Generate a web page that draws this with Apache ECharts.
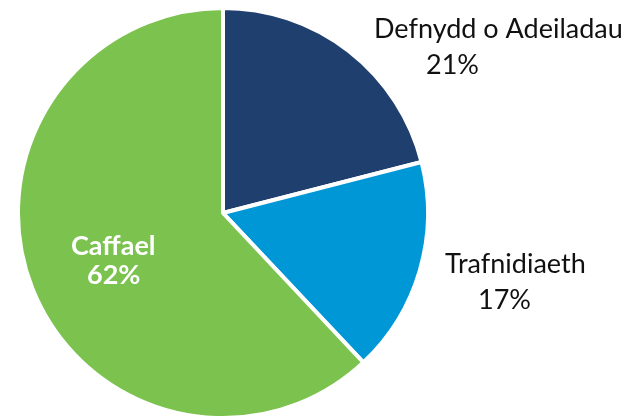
<!DOCTYPE html>
<html>
<head>
<meta charset="utf-8">
<script src="https://cdn.jsdelivr.net/npm/echarts@6/dist/echarts.min.js"></script>
<style>
  html, body { margin: 0; padding: 0; background: #fff; }
  #chart { width: 635px; height: 419px; }
</style>
</head>
<body>
<div id="chart"></div>
<script>
const categories = ["Defnydd o Adeiladau", "Trafnidiaeth", "Caffael"];
const shares = [21, 17, 62];
const sliceColors = ["#1f3f6f", "#0097d6", "#7bc24f"];

// where each label sits (left x, top y) and how far the % line is indented
const labelSpots = [
  { x: 374, y: 11, indent: 52, inside: false },
  { x: 445, y: 246, indent: 33, inside: false },
  { x: 71, y: 232, indent: 16, inside: true }
];

const chart = echarts.init(document.getElementById("chart"));

chart.setOption({
  animation: false,
  backgroundColor: "#fff",
  series: [
    {
      type: "pie",
      center: [223, 213],
      radius: 205,
      startAngle: 90,
      clockwise: true,
      avoidLabelOverlap: false,
      itemStyle: {
        borderColor: "#fff",
        borderWidth: 4
      },
      labelLine: { show: false },
      label: {
        show: true,
        position: "outside",
        fontFamily: "Lato",
        color: "#111",
        formatter: "{n|{b}}\n{p|{c}%}"
      },
      labelLayout: function (params) {
        const s = labelSpots[params.dataIndex];
        return { x: s.x, y: s.y, align: "left", verticalAlign: "top" };
      },
      data: categories.map((name, i) => {
        const s = labelSpots[i];
        const txt = s.inside ? "#fff" : "#111";
        const w = s.inside ? "bold" : "normal";
        const lh = s.inside ? 29 : 36;
        return {
          name: name,
          value: shares[i],
          itemStyle: { color: sliceColors[i] },
          label: {
            position: s.inside ? "inside" : "outside",
            rich: {
              n: { fontFamily: "Lato", fontSize: 27, lineHeight: lh, color: txt, fontWeight: w },
              p: { fontFamily: "Lato", fontSize: 27, lineHeight: lh, color: txt, fontWeight: w, padding: [0, 0, 0, s.indent] }
            }
          }
        };
      })
    }
  ]
});

window.addEventListener("resize", () => chart.resize());
</script>
</body>
</html>
